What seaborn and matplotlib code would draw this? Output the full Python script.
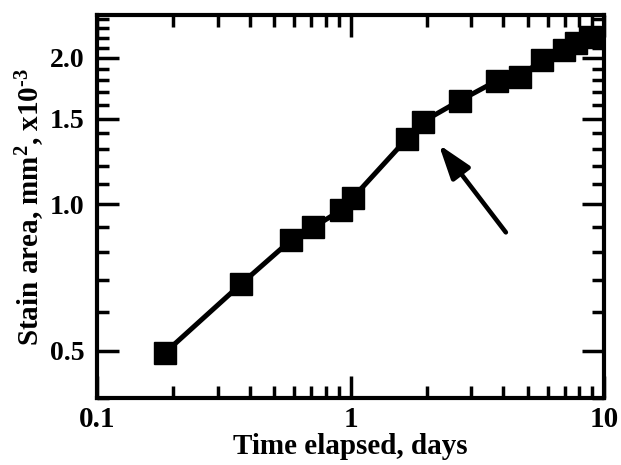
import numpy as np
import pandas as pd
import matplotlib
matplotlib.use("Agg")
import matplotlib.pyplot as plt
import seaborn as sns

# ---- data ----
time_days = [0.185, 0.370, 0.582, 0.711, 0.917, 1.024, 1.67, 1.93, 2.70,
             3.78, 4.66, 5.69, 6.95, 7.76, 8.81]
stain_area = [0.495, 0.686, 0.844, 0.897, 0.972, 1.033, 1.365, 1.479, 1.634,
              1.795, 1.83, 1.98, 2.08, 2.15, 2.21]

x_ticks = [0.1, 1, 10]
x_tick_labels = ["0.1", "1", "10"]
y_ticks = [0.5, 1.0, 1.5, 2.0]
y_tick_labels = ["0.5", "1.0", "1.5", "2.0"]
y_minor = [0.4, 0.6, 0.7, 0.8, 0.9, 1.1, 1.2, 1.3, 1.4, 1.6, 1.7, 1.8, 1.9,
           2.1, 2.2, 2.3, 2.4]

arrow_tip = (2.23, 1.327)
arrow_tail = (4.10, 0.876)

x_label = "Time elapsed, days"
y_label = "Stain area, mm$^{2}$, x10$^{\\text{-3}}$"

df = pd.DataFrame({"time": time_days, "area": stain_area})

sns.set_style("ticks")
plt.rcParams["font.family"] = ["Liberation Serif", "DejaVu Serif"]
plt.rcParams["font.weight"] = "bold"
plt.rcParams["text.color"] = "black"
plt.rcParams["axes.labelcolor"] = "black"
plt.rcParams["xtick.color"] = "black"
plt.rcParams["ytick.color"] = "black"
plt.rcParams["axes.unicode_minus"] = False
plt.rcParams["mathtext.fontset"] = "custom"
plt.rcParams["mathtext.rm"] = "Liberation Serif:bold"
plt.rcParams["mathtext.bf"] = "Liberation Serif:bold"
plt.rcParams["mathtext.it"] = "Liberation Serif:bold"
plt.rcParams["mathtext.default"] = "bf"

fig = plt.figure(figsize=(6.21, 4.65), dpi=100)
ax = fig.add_axes([97 / 621, (465 - 398) / 465, (604 - 97) / 621, (398 - 15) / 465])

sns.lineplot(data=df, x="time", y="area", ax=ax, color="black",
             linewidth=3.6, marker="s", markersize=16, markeredgewidth=1,
             markeredgecolor="black", markerfacecolor="black", sort=False)

ax.set_xscale("log")
ax.set_yscale("log")
ax.set_xlim(0.1, 10)
ax.set_ylim(0.4, 2.45)

ax.set_xticks(x_ticks, labels=x_tick_labels)
ax.set_yticks(y_ticks, labels=y_tick_labels)
ax.yaxis.set_minor_locator(matplotlib.ticker.FixedLocator(y_minor))
ax.yaxis.set_minor_formatter(matplotlib.ticker.NullFormatter())
ax.xaxis.set_minor_locator(matplotlib.ticker.LogLocator(base=10, subs=np.arange(2, 10)))
ax.xaxis.set_minor_formatter(matplotlib.ticker.NullFormatter())

ax.tick_params(which="both", direction="in", top=True, right=True, width=2.5,
               color="black")
ax.tick_params(which="major", length=16)
ax.tick_params(which="minor", length=8.5)
ax.tick_params(axis="x", which="major", pad=6, labelsize=21, labelcolor="black")
ax.tick_params(axis="y", which="major", pad=9, labelsize=20, labelcolor="black")
for lab in ax.get_xticklabels() + ax.get_yticklabels():
    lab.set_fontweight("bold")

for s in ax.spines.values():
    s.set_linewidth(3)
    s.set_color("black")
    s.set_visible(True)

ax.set_xlabel(x_label, fontsize=21, fontweight="bold", labelpad=0, color="black")
ax.set_ylabel(y_label, fontsize=21, fontweight="bold", labelpad=2, color="black")

ax.annotate("", xy=arrow_tip, xytext=arrow_tail,
            arrowprops=dict(arrowstyle="-|>,head_length=21,head_width=7",
                            mutation_scale=1, color="black", lw=3.3,
                            shrinkA=0, shrinkB=0, joinstyle="round",
                            capstyle="round"))

fig.savefig("out.png", dpi=100)
